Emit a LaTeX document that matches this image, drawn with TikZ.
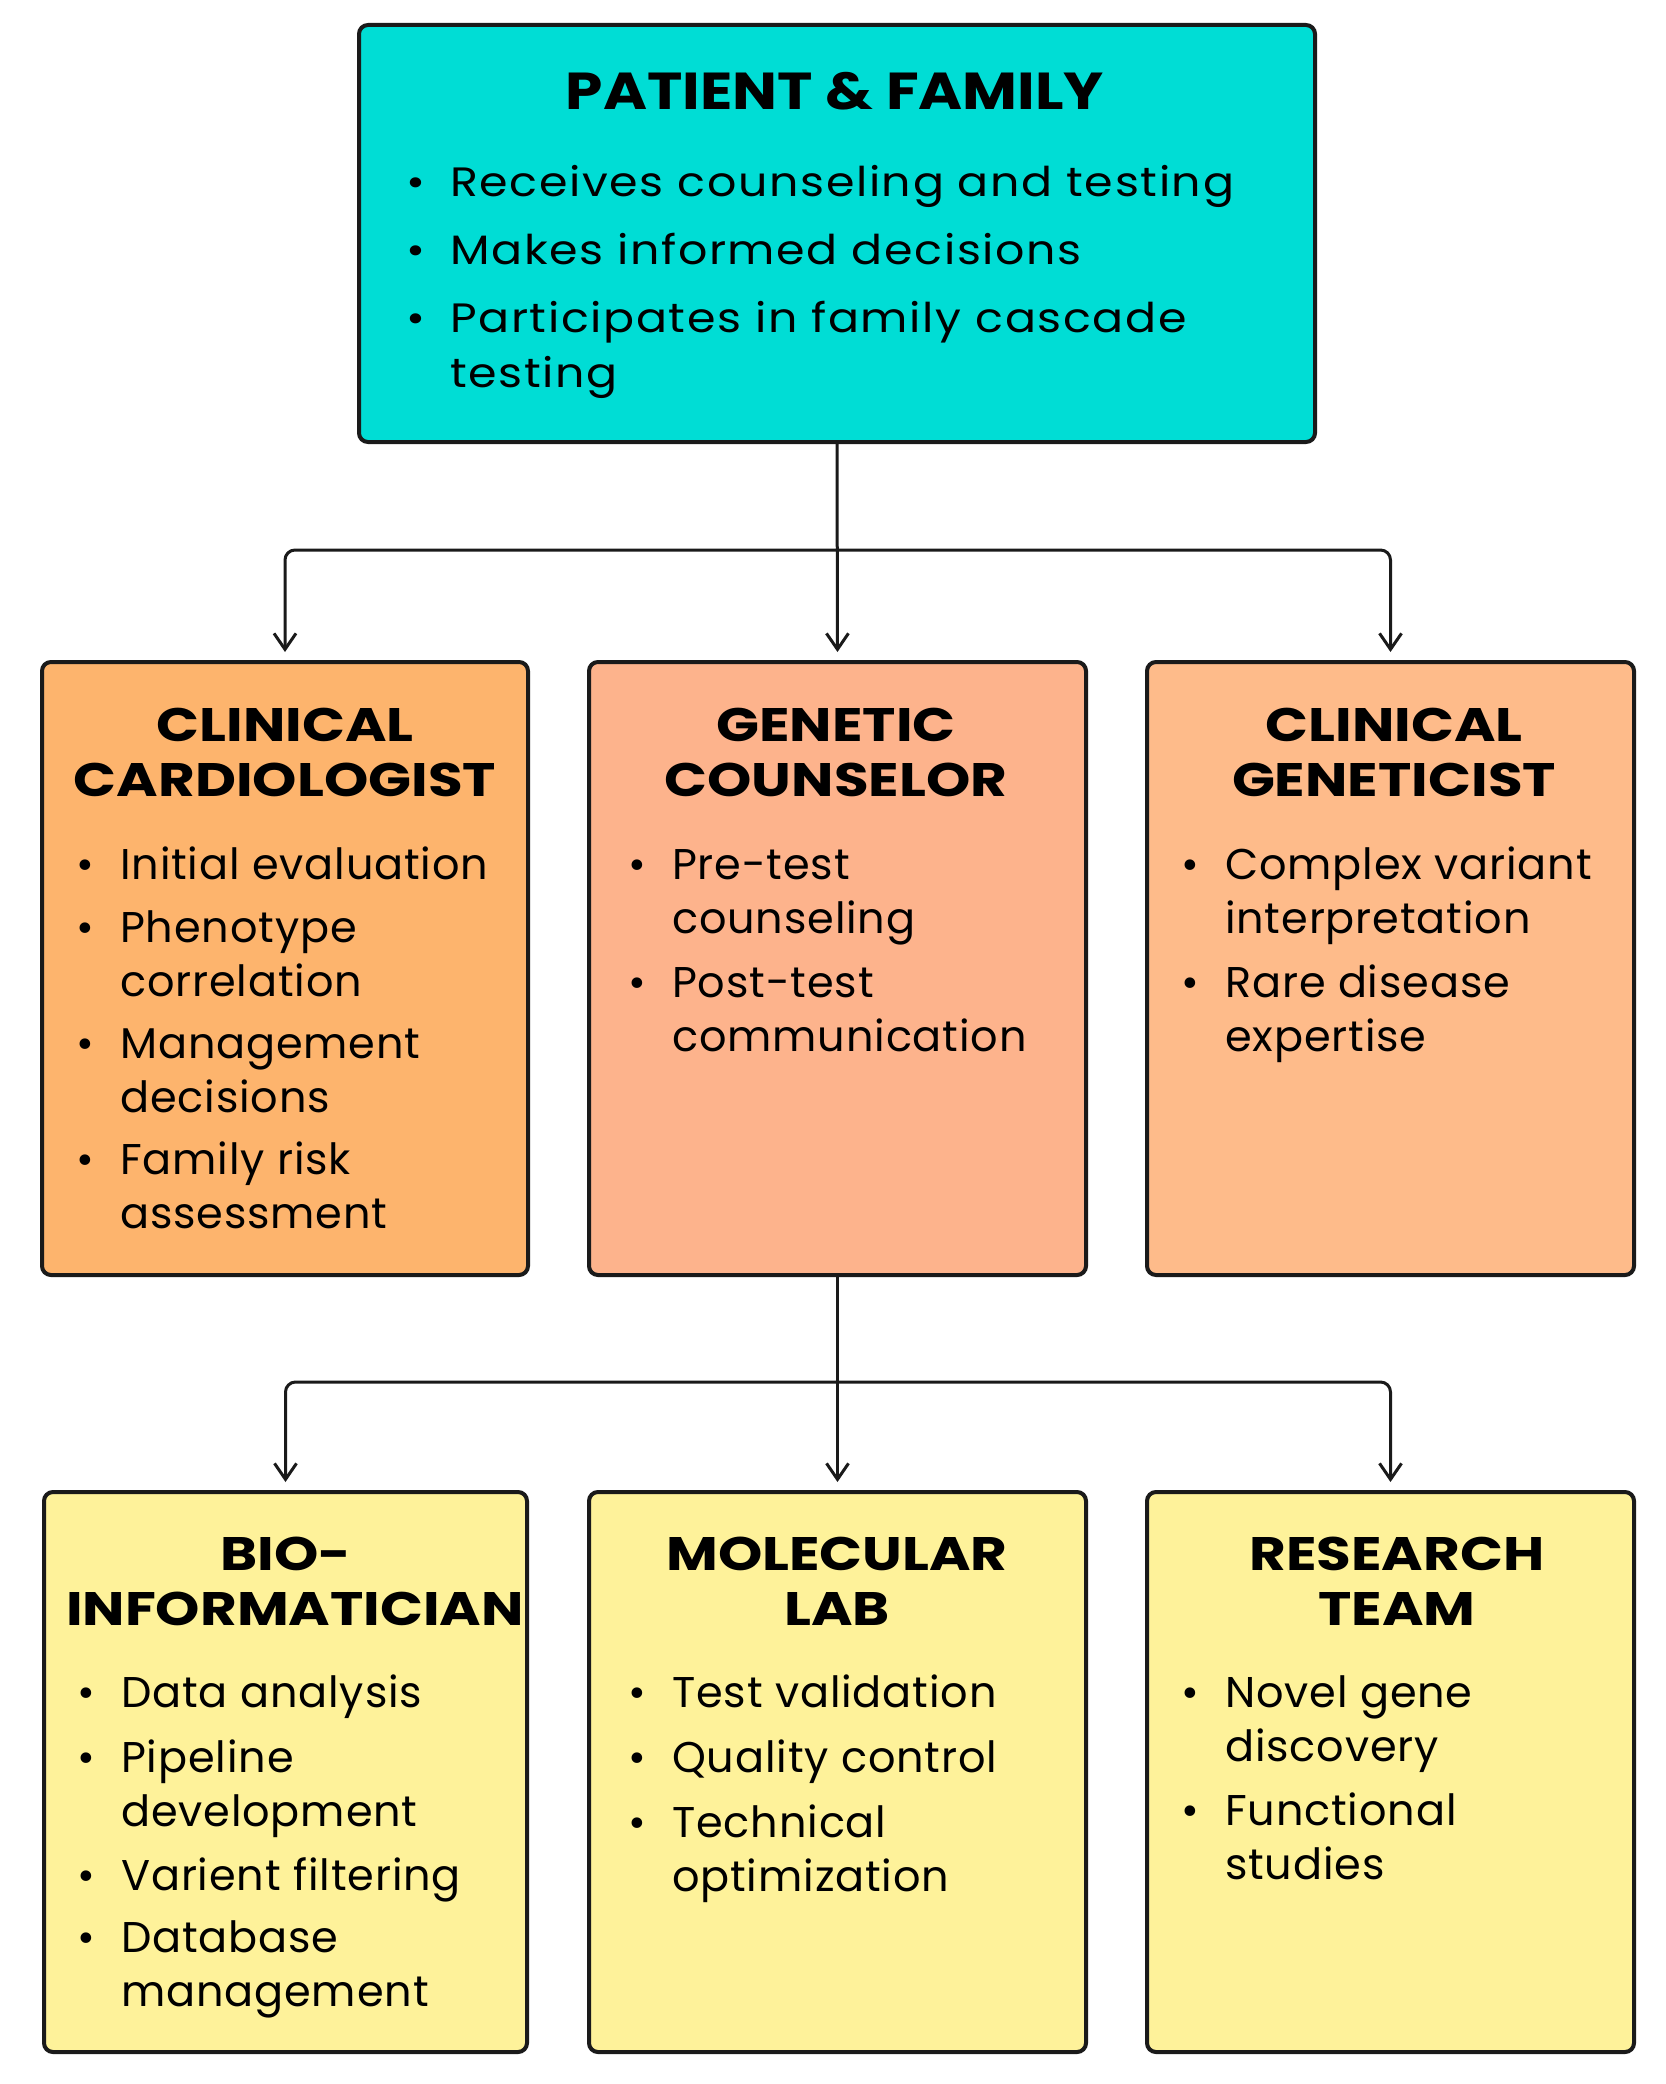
\documentclass[tikz,border=0pt]{standalone}
\usepackage{fontspec}
\setmainfont{Poppins}
\newfontfamily\topfam[FakeStretch=1.12,LetterSpace=4]{Poppins}
\newfontfamily\bodyfam[LetterSpace=2]{Poppins}
\newfontfamily\ttlfam[FakeStretch=1.2]{Poppins}
\newfontfamily\headfam[FakeStretch=1.15]{Poppins}
\usetikzlibrary{arrows.meta}
\definecolor{cyanbox}{HTML}{00DDD5}
\definecolor{orangebox}{HTML}{FDB46D}
\definecolor{salmonbox}{HTML}{FDB38C}
\definecolor{peachbox}{HTML}{FEBB8A}
\definecolor{yellowbox}{HTML}{FEF29A}
\definecolor{edge}{HTML}{1A1A1A}
\newcommand\topfont{\topfam\fontsize{41pt}{55pt}\selectfont}
\newcommand\bodyfont{\bodyfam\fontsize{43pt}{54pt}\selectfont}
\newcommand\headfont{\headfam\bfseries\fontsize{52pt}{60pt}\selectfont}
\newcommand\ttlfont{\ttlfam\bfseries\fontsize{47pt}{55pt}\selectfont}
\newcommand\bul[2]{\parbox[t]{#1}{\hangindent=44pt\hangafter=1\noindent\makebox[44pt][l]{\textbullet}#2}}
\begin{document}
\begin{tikzpicture}[x=1pt,y=-1pt,
  box/.style={draw=edge, line width=4pt, rounded corners=9pt, anchor=north west, inner sep=0pt},
  ttl/.style={font=\ttlfont, inner sep=0pt, anchor=base},
  itm/.style={font=\bodyfont, inner sep=0pt, anchor=base west},
  titm/.style={font=\topfont, inner sep=0pt, anchor=base west},
  conn/.style={draw=edge, line width=3pt, -{Straight Barb[length=16pt,width=22pt,line width=3pt]}, shorten >=8pt},
  bus/.style={draw=edge, line width=3pt, rounded corners=10pt, -{Straight Barb[length=16pt,width=22pt,line width=3pt]}, shorten >=8pt}]
\useasboundingbox[fill=white] (0,0) rectangle (1665,2084);

% ---- top box
\node[box, fill=cyanbox, minimum width=956pt, minimum height=417pt] (pf) at (357,23) {};
\node[font=\headfont, inner sep=0pt, anchor=base] (pft) at (835,110) {PATIENT \& FAMILY};
\node[titm] (pf1) at (406,197) {\bul{880pt}{Receives counseling and testing}};
\node[titm] (pf2) at (406,265) {\bul{880pt}{Makes informed decisions}};
\node[titm] (pf3) at (406,332) {\bul{880pt}{Participates in family cascade\\testing}};

% ---- middle row
\node[box, fill=orangebox, minimum width=486pt, minimum height=613pt] (cc) at (40,660) {};
\node[box, fill=salmonbox, minimum width=497pt, minimum height=613pt] (gc) at (587,660) {};
\node[box, fill=peachbox, minimum width=487pt, minimum height=613pt] (cg) at (1145,660) {};

\node[ttl] (cct1) at (285,741) {CLINICAL};
\node[ttl] (cct2) at (285,796) {CARDIOLOGIST};
\node[itm] (cc1) at (76,879) {\bul{440pt}{Initial evaluation}};
\node[itm] (cc2) at (76,942) {\bul{440pt}{Phenotype\\correlation}};
\node[itm] (cc3) at (76,1058) {\bul{440pt}{Management\\decisions}};
\node[itm] (cc4) at (76,1174) {\bul{440pt}{Family risk\\assessment}};

\node[ttl] (gct1) at (836,741) {GENETIC};
\node[ttl] (gct2) at (836,796) {COUNSELOR};
\node[itm] (gc1) at (628,879) {\bul{450pt}{Pre-test\\counseling}};
\node[itm] (gc2) at (628,997) {\bul{450pt}{Post-test\\communication}};

\node[ttl] (cgt1) at (1394,741) {CLINICAL};
\node[ttl] (cgt2) at (1394,796) {GENETICIST};
\node[itm] (cg1) at (1181,879) {\bul{450pt}{Complex variant\\interpretation}};
\node[itm] (cg2) at (1181,997) {\bul{450pt}{Rare disease\\expertise}};

% ---- bottom row
\node[box, fill=yellowbox, minimum width=483pt, minimum height=560pt] (bi) at (42,1490) {};
\node[box, fill=yellowbox, minimum width=497pt, minimum height=560pt] (ml) at (587,1490) {};
\node[box, fill=yellowbox, minimum width=487pt, minimum height=560pt] (rt) at (1145,1490) {};

\node[ttl] (bit1) at (286,1570) {BIO-};
\node[ttl] (bit2) at (295,1625) {INFORMATICIAN};
\node[itm] (bi1) at (77,1707) {\bul{440pt}{Data analysis}};
\node[itm] (bi2) at (77,1772) {\bul{440pt}{Pipeline\\development}};
\node[itm] (bi3) at (77,1890) {\bul{440pt}{Varient filtering}};
\node[itm] (bi4) at (77,1952) {\bul{440pt}{Database\\management}};

\node[ttl] (mlt1) at (837,1570) {MOLECULAR};
\node[ttl] (mlt2) at (837,1625) {LAB};
\node[itm] (ml1) at (628,1707) {\bul{450pt}{Test validation}};
\node[itm] (ml2) at (628,1772) {\bul{450pt}{Quality control}};
\node[itm] (ml3) at (628,1837) {\bul{450pt}{Technical\\optimization}};

\node[ttl] (rtt1) at (1397,1570) {RESEARCH};
\node[ttl] (rtt2) at (1397,1625) {TEAM};
\node[itm] (rt1) at (1181,1707) {\bul{450pt}{Novel gene\\discovery}};
\node[itm] (rt2) at (1181,1825) {\bul{450pt}{Functional\\studies}};

% ---- connectors
\coordinate (j1) at (835,550);
\coordinate (j2) at (835,1382);
\draw[conn] (pf.south) -- (gc.north);
\draw[bus] (j1) -| (cc.north);
\draw[bus] (j1) -| (cg.north);
\draw[conn] (gc.south) -- (ml.north);
\draw[bus] (j2) -| (bi.north);
\draw[bus] (j2) -| (rt.north);
\end{tikzpicture}
\end{document}
